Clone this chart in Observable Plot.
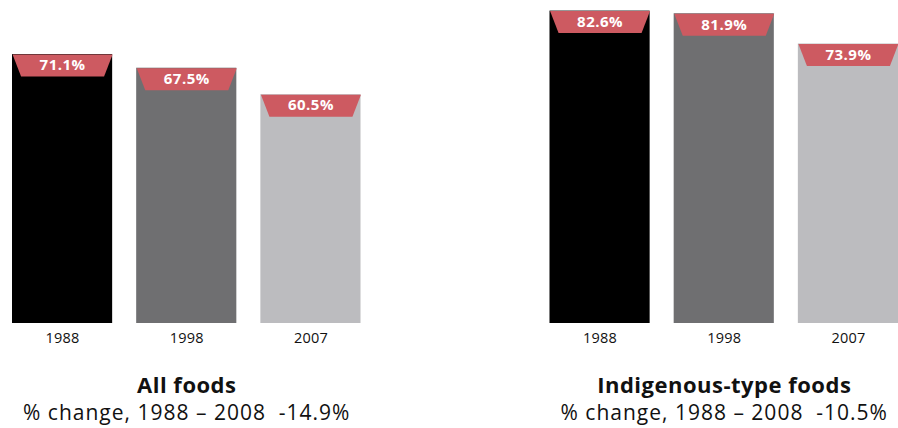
<!DOCTYPE html>
<html>
<head>
<meta charset="utf-8">
<script src="https://cdn.jsdelivr.net/npm/d3@7"></script>
<script src="https://cdn.jsdelivr.net/npm/@observablehq/plot@0.6"></script>
<style>
  html, body { margin: 0; padding: 0; background: #fff; }
  #chart svg { display: block; }
</style>
</head>
<body>
<div id="chart"></div>
<script>
const panels = ["All foods", "Indigenous-type foods"];
const years = ["1988", "1998", "2007"];
const allFoods = [71.1, 67.5, 60.5];
const indigenousFoods = [82.6, 81.9, 73.9];
const changes = ["-14.9%", "-10.5%"];
const barColors = ["#000000", "#6f6f71", "#bcbcbf"];
const labelColor = "#cd5a61";

const seriesByPanel = [allFoods, indigenousFoods];
const data = panels.flatMap((p, pi) => years.map((y, yi) => ({panel: p, year: y, value: seriesByPanel[pi][yi]})));
const captions = panels.map((p, i) => ({panel: p, title: p, sub: "% change, 1988 \u2013 2008 \u00a0" + changes[i]}));

const trapezoid = {
  draw(ctx) {
    ctx.moveTo(-50, -11);
    ctx.lineTo(50, -11);
    ctx.lineTo(41.5, 11);
    ctx.lineTo(-41.5, 11);
    ctx.closePath();
  }
};

const chart = Plot.plot({
  width: 898,
  height: 428,
  marginLeft: 12,
  marginRight: 0,
  marginTop: 0,
  marginBottom: 105,
  style: {fontFamily: "'Open Sans', sans-serif", background: "#fff"},
  fx: {domain: panels, paddingInner: 0.3516, paddingOuter: 0, round: false, axis: null, label: null},
  x: {domain: years, paddingInner: 0.1935, paddingOuter: 0, round: false, label: null},
  y: {domain: [0, 85.4], axis: null},
  color: {domain: years, range: barColors},
  marks: [
    Plot.barY(data, {fx: "panel", x: "year", y: "value", fill: "year"}),
    Plot.dot(data, {fx: "panel", x: "year", y: "value", symbol: trapezoid, fill: labelColor, stroke: null, r: 10, dy: 11}),
    Plot.text(data, {fx: "panel", x: "year", y: "value", text: d => d.value.toFixed(1) + "%", fill: "#fff", fontWeight: "bold", fontSize: 15, dy: 11, lineAnchor: "middle"}),
    Plot.axisX({tickSize: 0, tickPadding: 9, fontSize: 14.5, color: "#111"}),
    Plot.text(captions, {fx: "panel", text: "title", frameAnchor: "bottom", lineAnchor: "bottom", dy: 69, fontSize: 22, fontWeight: "bold", fill: "#111"}),
    Plot.text(captions, {fx: "panel", text: "sub", frameAnchor: "bottom", lineAnchor: "bottom", dy: 96, fontSize: 21, fill: "#111"})
  ]
});
// letter spacing to mimic the wider original typeface
const spacing = [0.5, 0.5, 1.0];
d3.select(chart).selectAll("g[aria-label='text']").each(function(d, i) {
  d3.select(this).attr("letter-spacing", spacing[i]);
});
d3.select(chart).selectAll("g[aria-label='x-axis tick label']").attr("letter-spacing", 0.2);
document.getElementById("chart").appendChild(chart);
</script>
</body>
</html>
